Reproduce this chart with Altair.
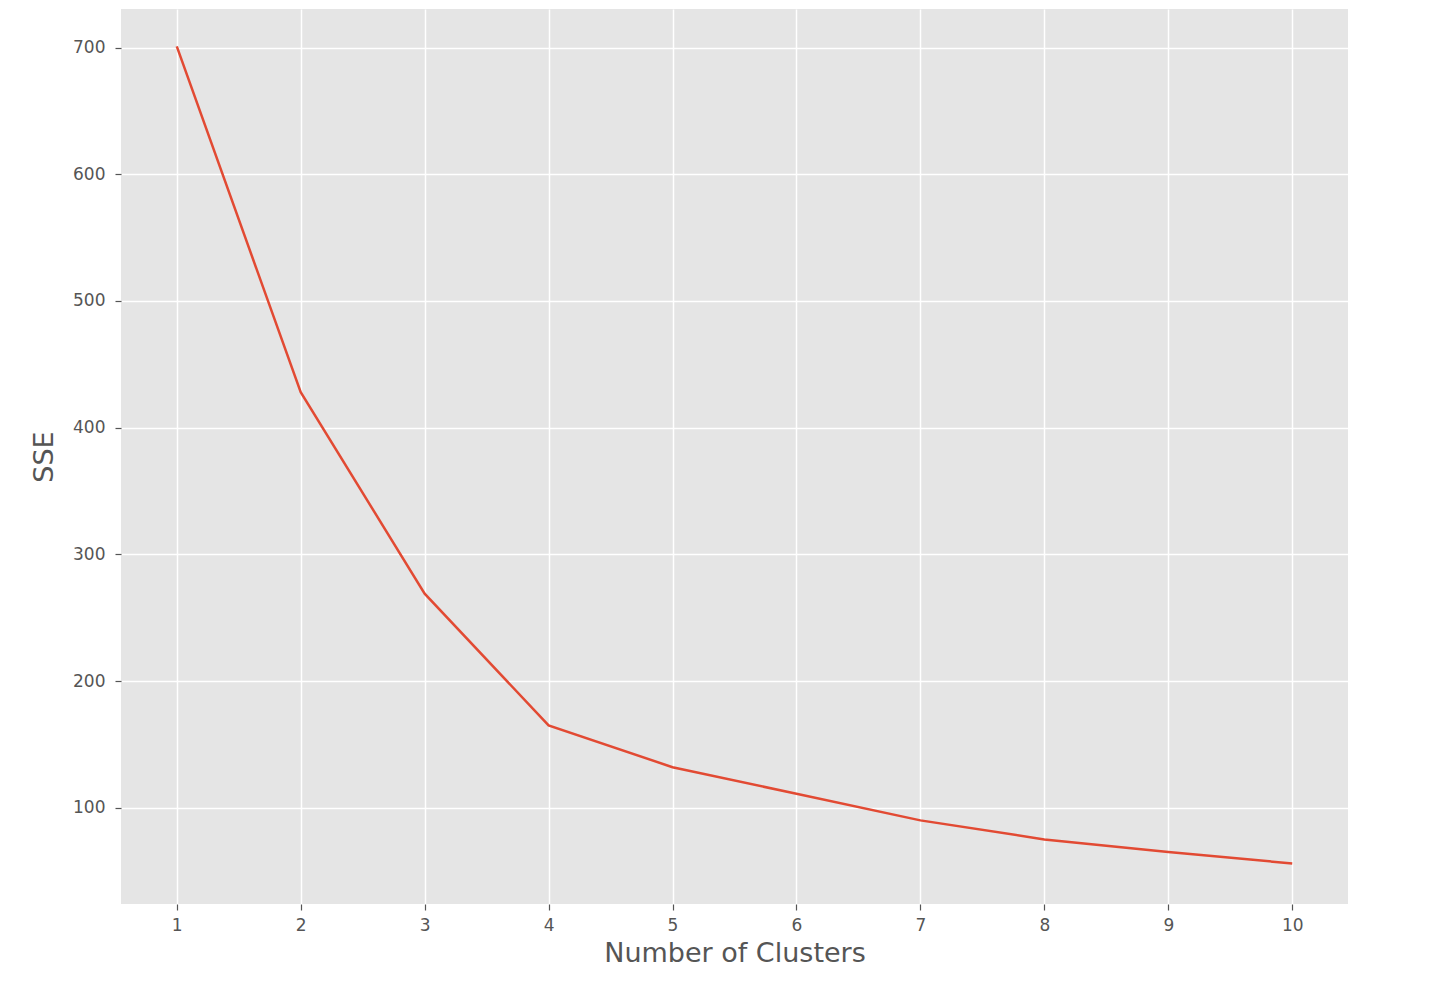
import altair as alt
import pandas as pd

clusters = [1, 2, 3, 4, 5, 6, 7, 8, 9, 10]
sse = [701, 428, 269, 165, 132, 111, 90, 75, 65, 56]

df = pd.DataFrame({"k": clusters, "sse": sse})

FONT = "DejaVu Sans"

chart = alt.Chart(df).mark_line(color="#E24A33", strokeWidth=2.5).encode(
    x=alt.X("k:Q", title="Number of Clusters",
            scale=alt.Scale(domain=[0.55, 10.45], nice=False, zero=False),
            axis=alt.Axis(values=clusters, format="d", tickSize=6, labelPadding=7,
                          titlePadding=7)),
    y=alt.Y("sse:Q", title="SSE",
            scale=alt.Scale(domain=[24, 730.5], nice=False, zero=False),
            axis=alt.Axis(values=[100, 200, 300, 400, 500, 600, 700], tickSize=6,
                          labelPadding=10, titlePadding=14)),
).properties(
    width=1227,
    height=895,
    autosize=alt.AutoSizeParams(type="none"),
    padding={"left": 113, "top": 1, "right": 78, "bottom": 76},
).configure_view(
    fill="#E5E5E5", stroke=None
).configure_axis(
    grid=True, gridColor="#FFFFFF", gridWidth=1.5,
    domain=False, tickColor="#555555", tickWidth=1.2,
    labelColor="#555555", labelFont=FONT, labelFontSize=17,
    titleColor="#555555", titleFont=FONT, titleFontSize=27, titleFontWeight="normal",
)

chart.save("out.html", embed_options={"renderer": "svg", "actions": False})
